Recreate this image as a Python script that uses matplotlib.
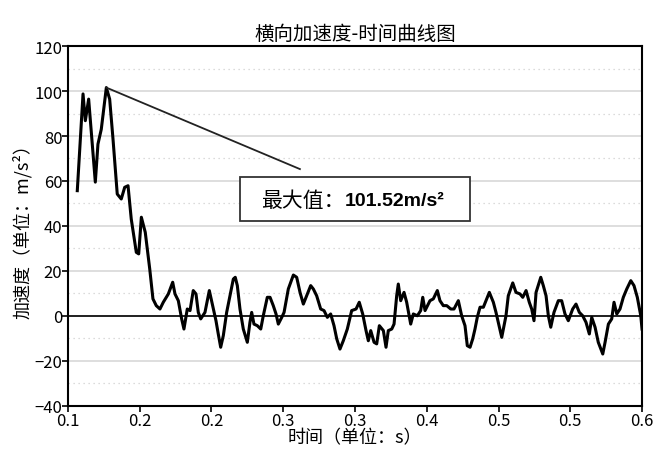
import numpy as np
import matplotlib.pyplot as plt
from matplotlib.patches import Rectangle

plt.rcParams['font.family'] = ['Noto Sans CJK SC', 'DejaVu Sans']

# time (s) and lateral acceleration (m/s^2)
t = [0.1081, 0.1131, 0.1151, 0.1180, 0.1238, 0.1261, 0.1290, 0.1334, 0.1363, 0.1392,
     0.1429, 0.1464, 0.1494, 0.1523, 0.1551, 0.1595, 0.1616, 0.1639, 0.1673, 0.1712,
     0.1740, 0.1769, 0.1801, 0.1830, 0.1874, 0.1912, 0.1932, 0.1961, 0.1990, 0.2010,
     0.2039, 0.2063, 0.2091, 0.2115, 0.2135, 0.2156, 0.2193, 0.2231, 0.2260, 0.2289,
     0.2309, 0.2330, 0.2353, 0.2382, 0.2411, 0.2440, 0.2457, 0.2475, 0.2498, 0.2527,
     0.2562, 0.2585, 0.2600, 0.2620, 0.2649, 0.2679, 0.2701, 0.2736, 0.2760, 0.2788,
     0.2812, 0.2832, 0.2862, 0.2882, 0.2919, 0.2963, 0.2992, 0.3021, 0.3050, 0.3085,
     0.3114, 0.3137, 0.3166, 0.3201, 0.3230, 0.3259, 0.3288, 0.3317, 0.3341, 0.3369,
     0.3398, 0.3433, 0.3471, 0.3509, 0.3537, 0.3567, 0.3596, 0.3616, 0.3637, 0.3666,
     0.3689, 0.3712, 0.3747, 0.3770, 0.3790, 0.3820, 0.3840, 0.3863, 0.3877, 0.3898,
     0.3927, 0.3950, 0.3985, 0.4008, 0.4043, 0.4072, 0.4090, 0.4110, 0.4153, 0.4182,
     0.4217, 0.4240, 0.4269, 0.4299, 0.4334, 0.4362, 0.4400, 0.4429, 0.4458, 0.4478,
     0.4502, 0.4525, 0.4545, 0.4565, 0.4589, 0.4618, 0.4641, 0.4670, 0.4705, 0.4728,
     0.4748, 0.4778, 0.4798, 0.4815, 0.4835, 0.4874, 0.4902, 0.4937, 0.4961, 0.4990,
     0.5018, 0.5039, 0.5059, 0.5077, 0.5118, 0.5140, 0.5164, 0.5184, 0.5205, 0.5233,
     0.5271, 0.5300, 0.5329, 0.5358, 0.5396, 0.5425, 0.5454, 0.5483, 0.5512, 0.5541,
     0.5562, 0.5591, 0.5619, 0.5658, 0.5678, 0.5707, 0.5736, 0.5756, 0.5780, 0.5808,
     0.5837, 0.5867, 0.5902, 0.5930, 0.5959, 0.5989, 0.6000]
acc = [55.7, 98.7, 86.8, 96.4, 59.5, 76.4, 83.0, 101.52, 96.4, 78.7,
       54.2, 52.0, 57.2, 57.9, 43.1, 28.3, 27.6, 43.9, 37.2, 20.9,
       7.6, 4.6, 3.1, 6.1, 9.8, 15.0, 9.8, 6.8, -1.3, -5.8,
       3.1, 2.4, 11.3, 9.8, 1.6, -1.3, 1.6, 11.3, 4.6, -2.1,
       -8.0, -13.9, -8.7, 1.6, 9.0, 16.4, 17.2, 13.5, 3.1, -5.8,
       -11.7, -2.8, 1.6, -3.6, -4.3, -5.8, 0.1, 8.3, 8.3, 4.6,
       0.9, -3.6, -0.6, 1.6, 12.0, 18.2, 17.2, 10.5, 5.3, 9.8,
       13.5, 12.0, 9.0, 3.1, 2.4, -0.6, 0.9, -4.3, -10.2, -14.7,
       -11.0, -5.8, 2.4, 3.1, 6.1, 0.9, -6.5, -11.0, -6.5, -11.7,
       -12.4, -4.3, -6.5, -13.9, -6.5, -5.8, -3.6, 9.0, 14.2, 6.8,
       10.5, 6.1, -3.6, 0.9, 0.1, 2.4, 8.3, 2.4, 6.8, 7.6,
       11.3, 6.8, 4.6, 4.6, 3.1, 3.1, 6.8, 0.1, -4.3, -13.2,
       -13.9, -10.2, -5.8, -0.6, 3.9, 3.9, 6.8, 10.5, 6.1, 1.6,
       -2.8, -9.5, -4.3, 0.1, 9.0, 14.7, 10.5, 9.8, 8.3, 11.3,
       6.1, 3.1, -2.1, 10.5, 17.2, 13.5, 9.0, 0.1, -5.0, 1.6,
       6.8, 6.8, 0.9, -2.1, 3.1, 5.3, 1.6, 0.1, -2.8, -8.0,
       -0.6, -5.0, -11.7, -16.9, -11.7, -3.6, -1.3, 6.1, 0.9, 3.1,
       8.3, 12.0, 15.7, 13.5, 8.3, 0.1, -5.8]

x_ticks = np.linspace(0.1, 0.6, 9)
x_tick_labels = ['0.1', '0.2', '0.2', '0.3', '0.3', '0.4', '0.5', '0.5', '0.6']
y_ticks = [-40, -20, 0, 20, 40, 60, 80, 100, 120]

peak_i = int(np.argmax(acc))
peak_t, peak_v = t[peak_i], acc[peak_i]

fig = plt.figure(figsize=(6.55, 4.52), dpi=100)
ax = fig.add_axes([0.1038, 0.0996, 0.8764, 0.7964])

# grid: solid at 20, dotted at the 10s in between
for v in range(-30, 120, 20):
    ax.axhline(v, color='#d0d0d0', lw=0.9, ls=(0, (1, 3)), zorder=0)
for v in range(-20, 120, 20):
    ax.axhline(v, color='#d8d8d8', lw=1.2, zorder=0)
ax.axhline(0, color='black', lw=1.2, zorder=1)

ax.plot(t, acc, color='black', lw=2.2, zorder=3)

ax.set_xlim(0.1, 0.6)
ax.set_ylim(-40, 120)
ax.set_xticks(x_ticks)
ax.set_xticklabels(x_tick_labels)
ax.set_yticks(y_ticks)
tick_font = ['Liberation Sans Narrow', 'Noto Sans CJK SC', 'DejaVu Sans']
for lab in ax.get_xticklabels() + ax.get_yticklabels():
    lab.set_family(tick_font)
    lab.set_fontsize(12)
ax.tick_params(direction='out', length=4, width=1.2, pad=0, colors='black')
for s in ax.spines.values():
    s.set_linewidth(1.5)
    s.set_color('black')

ax.set_title('横向加速度-时间曲线图', fontsize=14, pad=5)
ax.set_xlabel('时间（单位：s）', fontsize=13, labelpad=0)
ax.set_ylabel('加速度（单位：m/s²）', fontsize=13, labelpad=2)

# annotation line and box for the maximum
ax.plot([peak_t, 0.302], [peak_v, 65.3], color='#222222', lw=1.3, zorder=4)
ax.add_patch(Rectangle((0.2498, 42.2), 0.2004, 19.6, facecolor='white',
                       edgecolor='#333333', lw=1.3, zorder=5))
ax.text(0.3413, 51.5, '最大值：', ha='right', va='center', fontsize=15, zorder=6)
ax.text(0.3413, 51.5, f'{peak_v:.2f}m/s²', ha='left', va='center', fontsize=14,
        fontweight='bold', family=['Liberation Sans', 'DejaVu Sans'], zorder=6)

fig.savefig('out.png', dpi=100)
